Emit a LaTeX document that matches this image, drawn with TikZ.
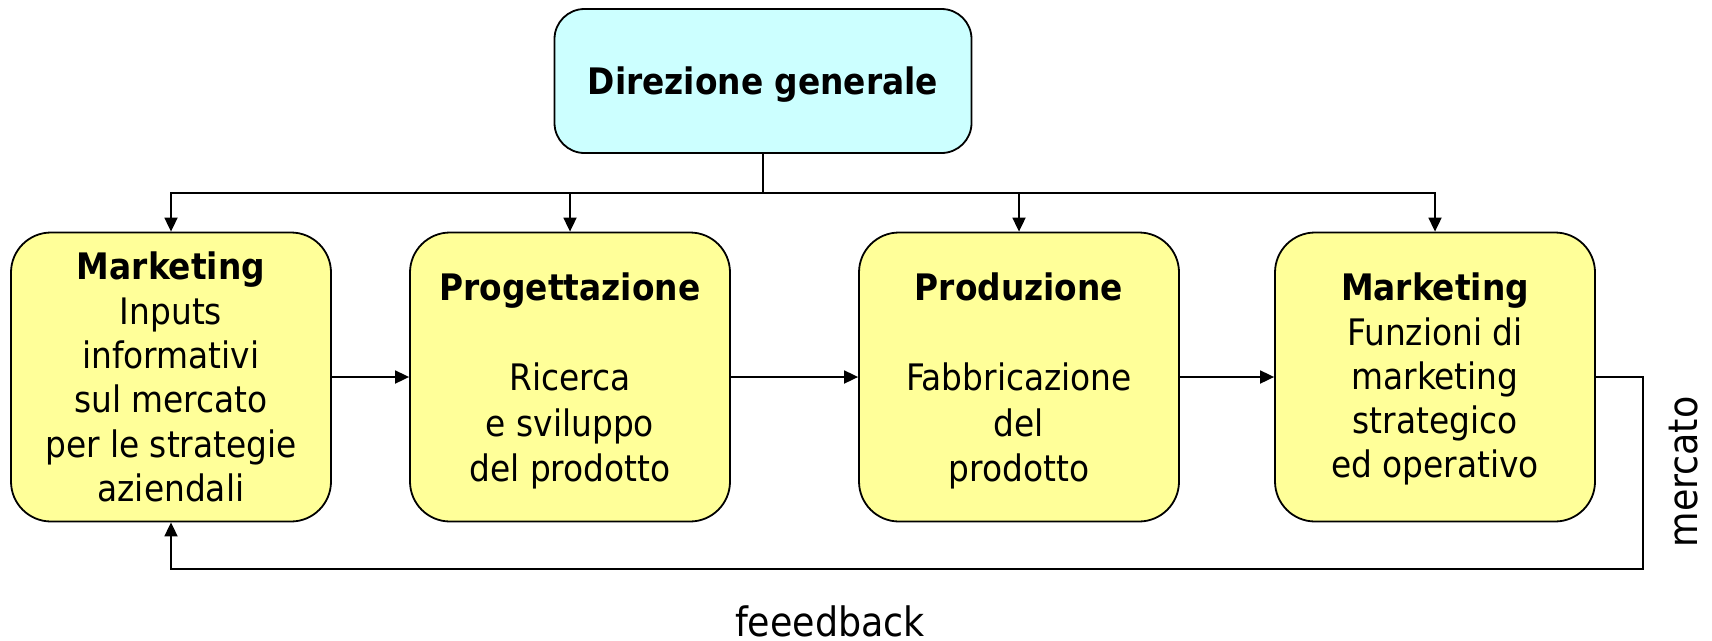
\documentclass[tikz,border=0pt]{standalone}
\usepackage{fontspec}
\setmainfont{DejaVu Sans Condensed}
\usetikzlibrary{arrows.meta}
\definecolor{giallo}{HTML}{FFFF99}
\definecolor{azzurro}{HTML}{CCFFFF}
\tikzstyle{ufficio}=[rectangle, draw, line width=1.8pt, fill=giallo, rounded corners=40pt, minimum width=320pt, minimum height=289pt, align=center, font=\fontsize{36.5}{44.3}\selectfont]
\tikzstyle{fase}=[ufficio, text depth=0pt, font=\fontsize{36.5}{45.3}\selectfont]
\newcommand{\ufficio}{\node[ufficio]}

\begin{document}
\begin{tikzpicture}[x=1pt, y=-1pt, line width=1.8pt, >={Triangle[length=14pt, width=13pt]}]
\useasboundingbox (0,0) rectangle (1712,640);
\node[ufficio, fill=azzurro, rounded corners=30pt, minimum width=417pt, minimum height=144pt, text depth=0pt, font=\fontsize{36.5}{40}\selectfont\bfseries] (D) at (763,81) {Direzione generale};
\ufficio (M1) at (171,377) {\textbf{Marketing}\\Inputs\\informativi\\sul mercato\\per le strategie\\aziendali};
\node[fase] (P1) at (570,377) {\textbf{Progettazione}\\[45.3pt]Ricerca\\e sviluppo\\del prodotto};
\node[fase] (P2) at (1019,377) {\textbf{Produzione}\\[45.3pt]Fabbricazione\\del\\prodotto};
\ufficio[text depth=3pt] (M2) at (1435,377) {\textbf{Marketing}\\Funzioni di\\marketing\\strategico\\ed operativo};
\coordinate (T) at (763,193);
\coordinate (R) at (1643,377);
\coordinate (B) at (1643,569);
% direzione verso le funzioni
\draw (D) -- (T);
\draw[->] (T) -| (M1);
\draw[->] (T) -| (P1);
\draw[->] (T) -| (P2);
\draw[->] (T) -| (M2);
\draw[->] (M1) -- (P1);
\draw[->] (P1) -- (P2);
\draw[->] (P2) -- (M2);
% ritorno dal mercato
\draw[->] (M2.east) -- (R) -- (B) -| (M1.south);
\node[rotate=90, anchor=base, font=\fontsize{40.5}{44}\selectfont] (mercato) at (1697,472) {mercato};
\node[anchor=base, font=\fontsize{40.5}{44}\selectfont] (feedback) at (830,636) {feeedback};
\end{tikzpicture}
\end{document}
